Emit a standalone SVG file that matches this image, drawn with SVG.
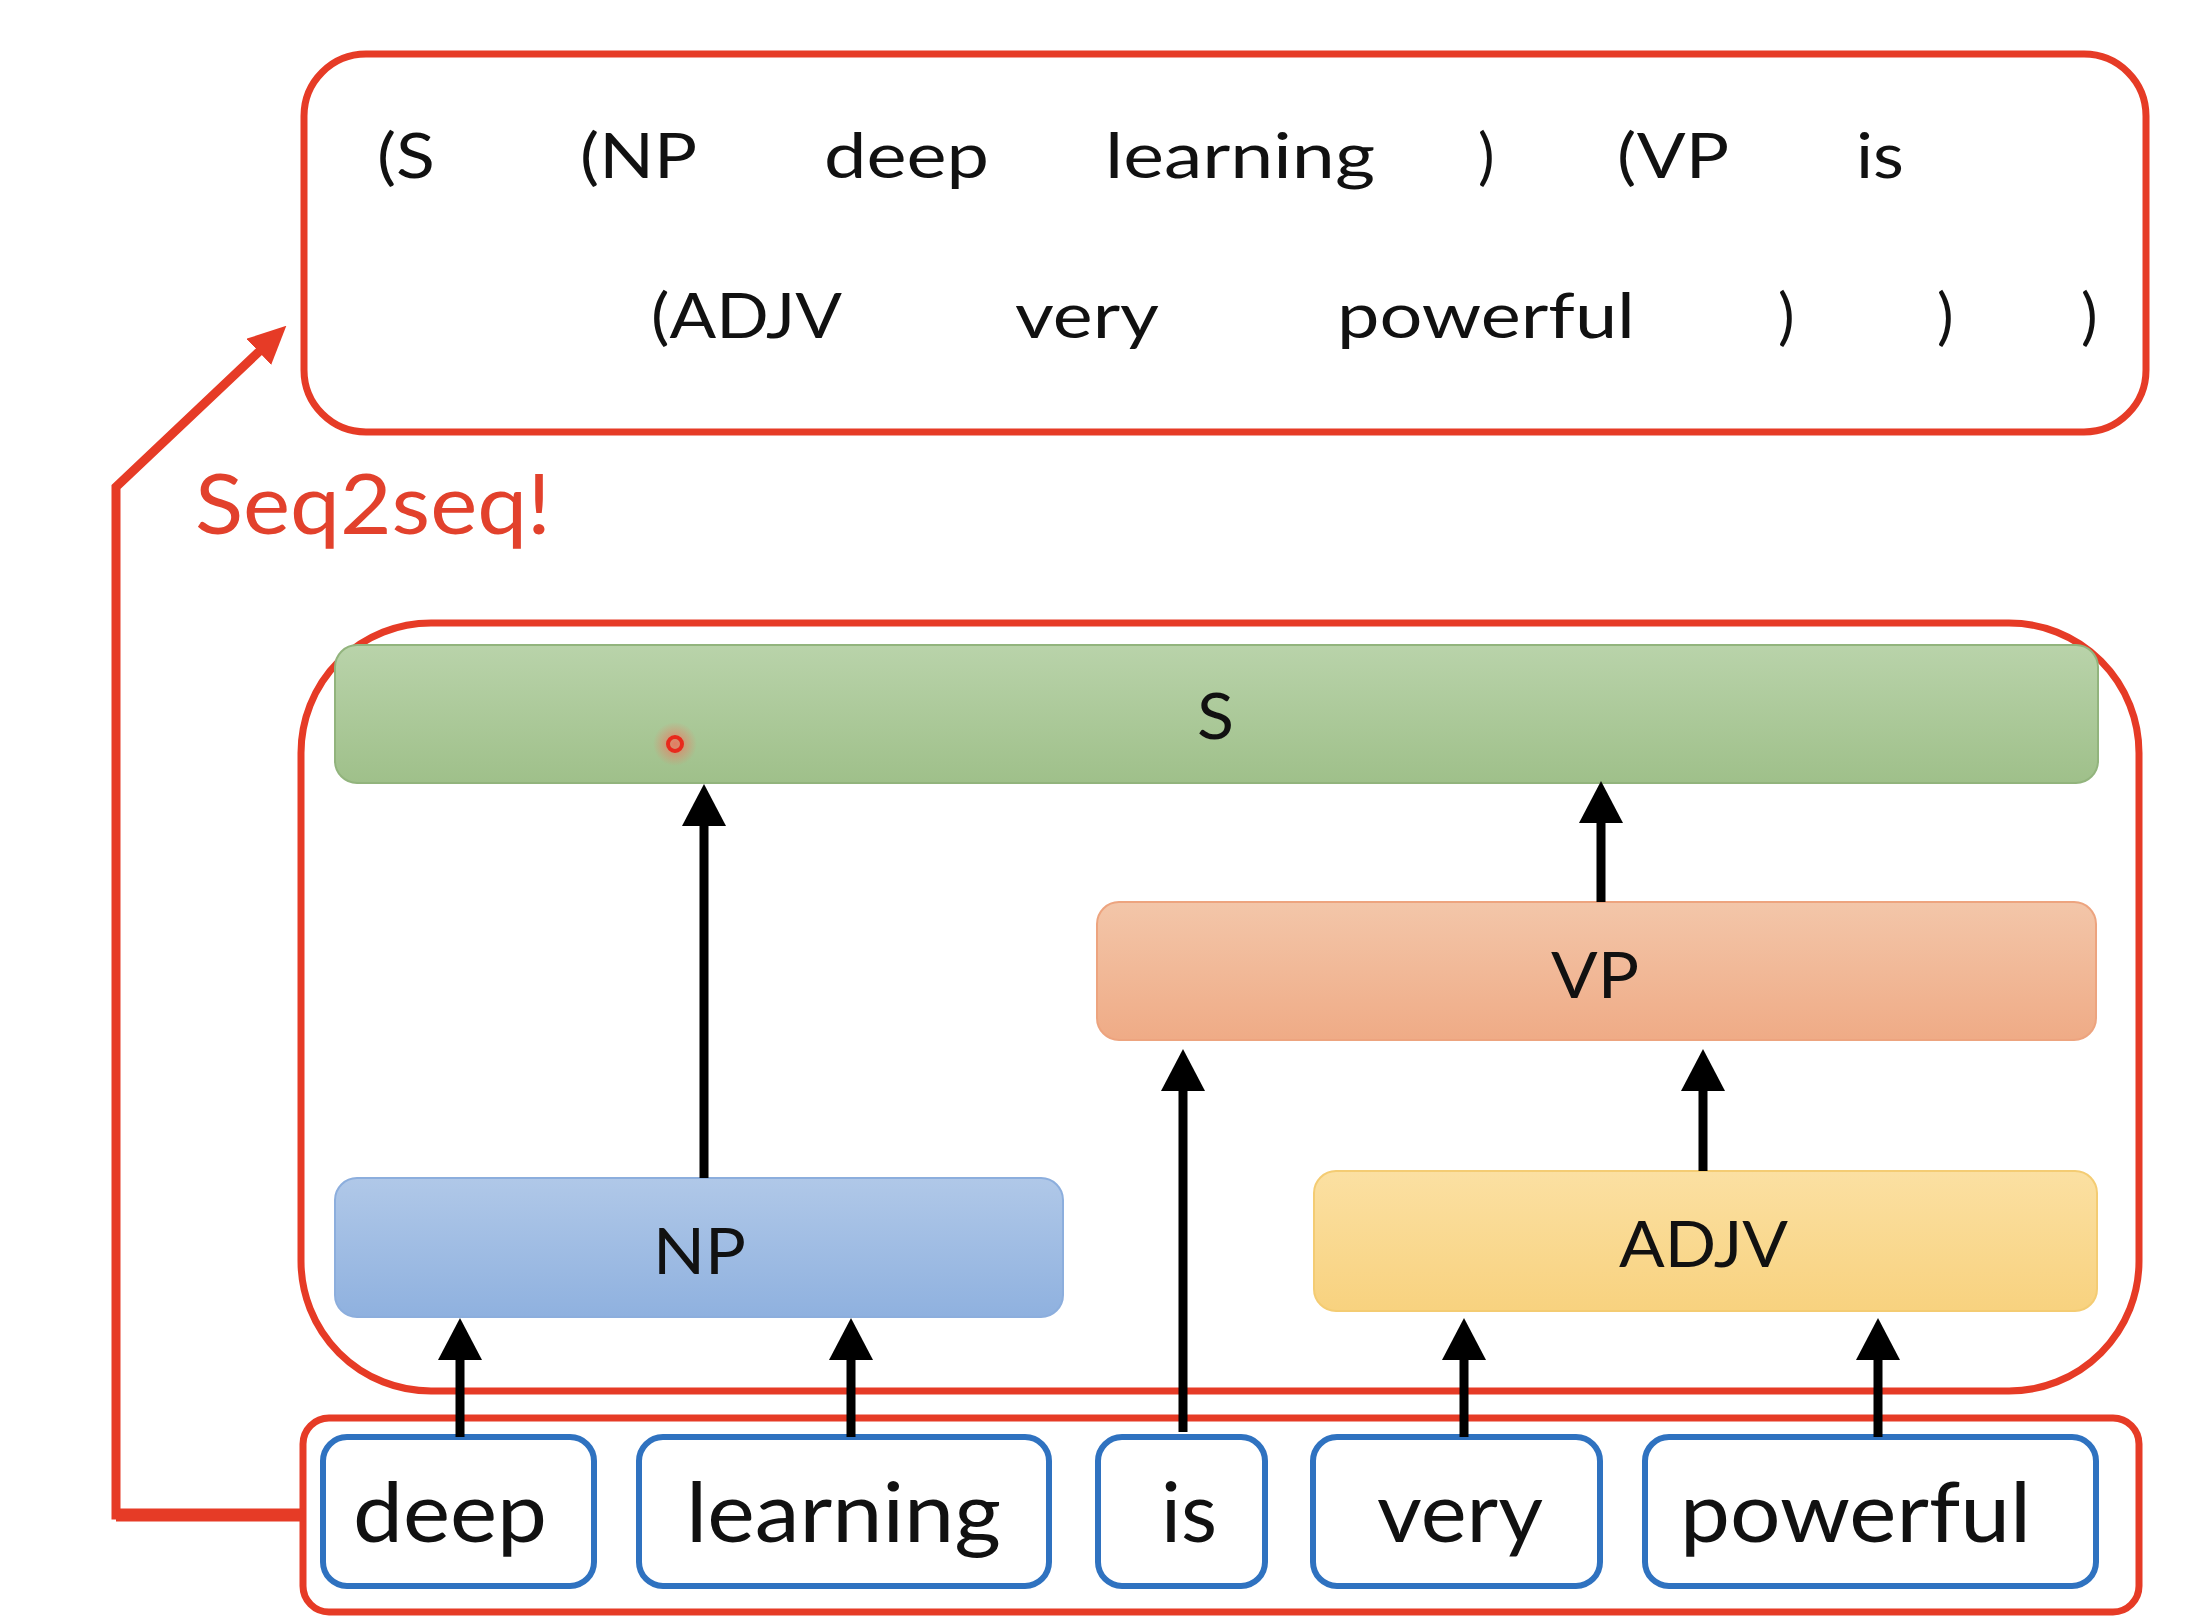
<svg xmlns="http://www.w3.org/2000/svg" width="2186" height="1622" viewBox="0 0 2186 1622">
<style>
.t{font-family:Lato,"Open Sans",sans-serif;fill:#111}
.top{font-size:62px}
.lbl{font-size:63px}
.word{font-size:83px}
.frame{fill:none;stroke:#e63b26;stroke-width:7}
.wbox{fill:#fff;stroke:#2f72c0;stroke-width:6}
.arr{stroke:#000;stroke-width:9;fill:none;marker-end:url(#ah)}
</style>
<defs>
<marker id="ah" markerUnits="userSpaceOnUse" markerWidth="44" markerHeight="44" refX="12" refY="22" orient="auto"><path d="M0,0 L42,22 L0,44 z" fill="#000"/></marker>
<marker id="rh" markerUnits="userSpaceOnUse" markerWidth="38" markerHeight="36" refX="10" refY="18" orient="auto"><path d="M0,0 L38,18 L0,36 z" fill="#e63b26"/></marker>
<linearGradient id="gS" x1="0" y1="0" x2="0" y2="1"><stop offset="0" stop-color="#b9d3aa"/><stop offset="1" stop-color="#9fc08a"/></linearGradient>
<linearGradient id="gVP" x1="0" y1="0" x2="0" y2="1"><stop offset="0" stop-color="#f3c6a9"/><stop offset="1" stop-color="#efab86"/></linearGradient>
<linearGradient id="gNP" x1="0" y1="0" x2="0" y2="1"><stop offset="0" stop-color="#b0c8e8"/><stop offset="1" stop-color="#8fb1df"/></linearGradient>
<linearGradient id="gAD" x1="0" y1="0" x2="0" y2="1"><stop offset="0" stop-color="#fbe0a2"/><stop offset="1" stop-color="#f8d27f"/></linearGradient>
<radialGradient id="glow"><stop offset="0" stop-color="#ff5a4a" stop-opacity="0.7"/><stop offset="1" stop-color="#ff6a5a" stop-opacity="0"/></radialGradient>
</defs>
<rect width="2186" height="1622" fill="#fff"/>

<g id="output-box">
<rect class="frame" x="304" y="54" width="1842" height="378" rx="62"/>
<g class="t top">
<text x="377" y="178" textLength="58" lengthAdjust="spacingAndGlyphs">(S</text>
<text x="580" y="178" textLength="117" lengthAdjust="spacingAndGlyphs">(NP</text>
<text x="824" y="178" textLength="165" lengthAdjust="spacingAndGlyphs">deep</text>
<text x="1105" y="178" textLength="270" lengthAdjust="spacingAndGlyphs">learning</text>
<text x="1478" y="178">)</text>
<text x="1617" y="178" textLength="112" lengthAdjust="spacingAndGlyphs">(VP</text>
<text x="1856" y="178" textLength="48" lengthAdjust="spacingAndGlyphs">is</text>
<text x="651" y="338" textLength="191" lengthAdjust="spacingAndGlyphs">(ADJV</text>
<text x="1015" y="338" textLength="144" lengthAdjust="spacingAndGlyphs">very</text>
<text x="1337" y="338" textLength="298" lengthAdjust="spacingAndGlyphs">powerful</text>
<text x="1778" y="338">)</text>
<text x="1937" y="338">)</text>
<text x="2081" y="338">)</text>
</g>
</g>

<g id="seq2seq-label">
<text x="195" y="534" textLength="356" lengthAdjust="spacingAndGlyphs" style="font-family:Lato,'Open Sans',sans-serif;font-size:84px;fill:#e2412c">Seq2seq!</text>
</g>

<g id="tree-box">
<rect class="frame" x="301" y="623" width="1838" height="768" rx="130"/>
</g>

<g id="node-S">
<rect x="335" y="645" width="1763" height="138" rx="22" fill="url(#gS)" stroke="#92b47d" stroke-width="2"/>
<text class="t lbl" x="1197" y="739" textLength="37" lengthAdjust="spacingAndGlyphs">S</text>
</g>
<g id="node-VP">
<rect x="1097" y="902" width="999" height="138" rx="22" fill="url(#gVP)" stroke="#eda47f" stroke-width="2"/>
<text class="t lbl" x="1551" y="998" textLength="88" lengthAdjust="spacingAndGlyphs">VP</text>
</g>
<g id="node-NP">
<rect x="335" y="1178" width="728" height="139" rx="22" fill="url(#gNP)" stroke="#8caedd" stroke-width="2"/>
<text class="t lbl" x="653" y="1274" textLength="93" lengthAdjust="spacingAndGlyphs">NP</text>
</g>
<g id="node-ADJV">
<rect x="1314" y="1171" width="783" height="140" rx="22" fill="url(#gAD)" stroke="#f4cc73" stroke-width="2"/>
<text class="t lbl" x="1619" y="1267" textLength="169" lengthAdjust="spacingAndGlyphs">ADJV</text>
</g>

<g id="pointer">
<circle cx="675" cy="744" r="22" fill="url(#glow)"/>
<circle cx="675" cy="744" r="7" fill="none" stroke="#e8291c" stroke-width="4"/>
</g>

<g id="input-box">
<rect class="frame" x="303" y="1418" width="1836" height="194" rx="26"/>
</g>
<g id="word-deep"><rect class="wbox" x="323" y="1437" width="271" height="149" rx="24"/><text class="t word" x="353" y="1542" textLength="194" lengthAdjust="spacingAndGlyphs">deep</text></g>
<g id="word-learning"><rect class="wbox" x="639" y="1437" width="410" height="149" rx="24"/><text class="t word" x="686" y="1542" textLength="315" lengthAdjust="spacingAndGlyphs">learning</text></g>
<g id="word-is"><rect class="wbox" x="1098" y="1437" width="167" height="149" rx="24"/><text class="t word" x="1161" y="1542" textLength="56" lengthAdjust="spacingAndGlyphs">is</text></g>
<g id="word-very"><rect class="wbox" x="1313" y="1437" width="287" height="149" rx="24"/><text class="t word" x="1377" y="1542" textLength="166" lengthAdjust="spacingAndGlyphs">very</text></g>
<g id="word-powerful"><rect class="wbox" x="1645" y="1437" width="451" height="149" rx="24"/><text class="t word" x="1680" y="1542" textLength="351" lengthAdjust="spacingAndGlyphs">powerful</text></g>

<g id="connectors">
<line class="arr" x1="460" y1="1437" x2="460" y2="1348"/>
<line class="arr" x1="851" y1="1437" x2="851" y2="1348"/>
<line class="arr" x1="1183" y1="1432" x2="1183" y2="1079"/>
<line class="arr" x1="1464" y1="1437" x2="1464" y2="1348"/>
<line class="arr" x1="1878" y1="1437" x2="1878" y2="1348"/>
<line class="arr" x1="704" y1="1178" x2="704" y2="814"/>
<line class="arr" x1="1601" y1="902" x2="1601" y2="811"/>
<line class="arr" x1="1703" y1="1171" x2="1703" y2="1079"/>
<path d="M305,1515 H116 V487 L266,345" fill="none" stroke="#e63b26" stroke-width="9" marker-end="url(#rh)"/>
<line x1="116" y1="1515" x2="305" y2="1515" stroke="#e63b26" stroke-width="13"/>
</g>
</svg>
